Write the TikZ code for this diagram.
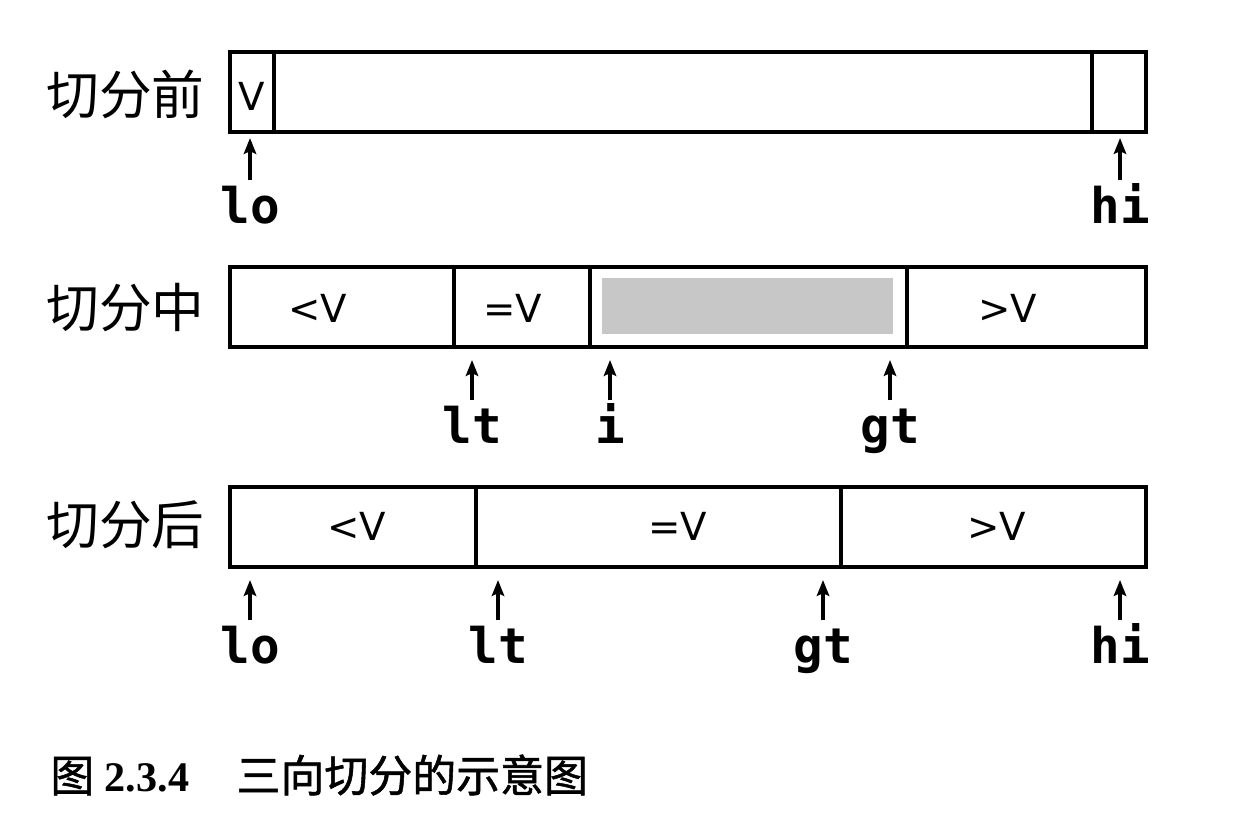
\documentclass[tikz,border=0pt]{standalone}
\usepackage{fontspec}
\setmainfont{Liberation Serif}
\newfontfamily\cjk{Noto Sans CJK SC}
\newfontfamily\capcjk{Noto Sans CJK SC}[FakeBold=1.2]
\newfontfamily\cellfont{DejaVu Sans}
\newfontfamily\ptrfont{DejaVu Sans Mono}
\usetikzlibrary{arrows.meta}

\tikzset{
    bar/.style={line width=2pt},
    cellv/.style={font=\cellfont\fontsize{22}{22}\selectfont, inner sep=0pt},
    ptr/.style={font=\ptrfont\bfseries\fontsize{28}{28}\selectfont, anchor=base,
        inner sep=3pt, text height=21pt, text depth=6pt},
    ptrarrow/.style={line width=2pt, -{Stealth[length=9pt, width=7pt, inset=1.5pt]}},
    rowlabel/.style={font=\cjk\fontsize{30}{30}\selectfont, anchor=east, inner sep=0pt},
}

\begin{document}
\begin{tikzpicture}[x=0.02cm, y=-0.02cm]
    \useasboundingbox (0,0) rectangle (1256,836);

    % before partitioning
    \node[rowlabel] (before) at (205,94) {切分前};
    \draw[bar] (230,52) rectangle (1146,132);
    \foreach \x in {274,1092} {
        \draw[bar] (\x,52) -- (\x,132);
    }
    \node[cellv] (pivot) at (252,96) {V};
    \foreach \n/\x in {lo/250, hi/1120} {
        \node[ptr] (\n1) at (\x,223) {\n};
        \coordinate (\n1tip) at (\x,138);
        \draw[ptrarrow] (\n1.north) -- (\n1tip);
    }

    % during partitioning
    \node[rowlabel] (during) at (205,308) {切分中};
    \fill[black!22] (602,278) rectangle (893,334);
    \draw[bar] (230,267) rectangle (1146,347);
    \foreach \x in {454,590,907} {
        \draw[bar] (\x,267) -- (\x,347);
    }
    \foreach \n/\x/\s in {less/318/{<V}, equal/513/{=V}, more/1008/{>V}} {
        \node[cellv] (\n2) at (\x,308) {\s};
    }
    \foreach \n/\x in {lt/472, i/610, gt/890} {
        \node[ptr] (\n2) at (\x,443) {\n};
        \coordinate (\n2tip) at (\x,360);
        \draw[ptrarrow] (\n2.north) -- (\n2tip);
    }

    % after partitioning
    \node[rowlabel] (after) at (205,525) {切分后};
    \draw[bar] (230,487) rectangle (1146,567);
    \foreach \x in {476,841} {
        \draw[bar] (\x,487) -- (\x,567);
    }
    \foreach \n/\x/\s in {less/357/{<V}, equal/678/{=V}, more/997/{>V}} {
        \node[cellv] (\n3) at (\x,526) {\s};
    }
    \foreach \n/\x in {lo/250, lt/498, gt/823, hi/1120} {
        \node[ptr] (\n3) at (\x,663) {\n};
        \coordinate (\n3tip) at (\x,580);
        \draw[ptrarrow] (\n3.north) -- (\n3tip);
    }

    % caption
    \node[anchor=west, inner sep=0pt, font=\fontsize{24}{24}\selectfont] (caption) at (50,775)
        {{\capcjk\fontsize{25}{25}\selectfont 图} \textbf{2.3.4}\hspace{27pt}{\capcjk\fontsize{25}{25}\selectfont 三向切分的示意图}};
\end{tikzpicture}
\end{document}
